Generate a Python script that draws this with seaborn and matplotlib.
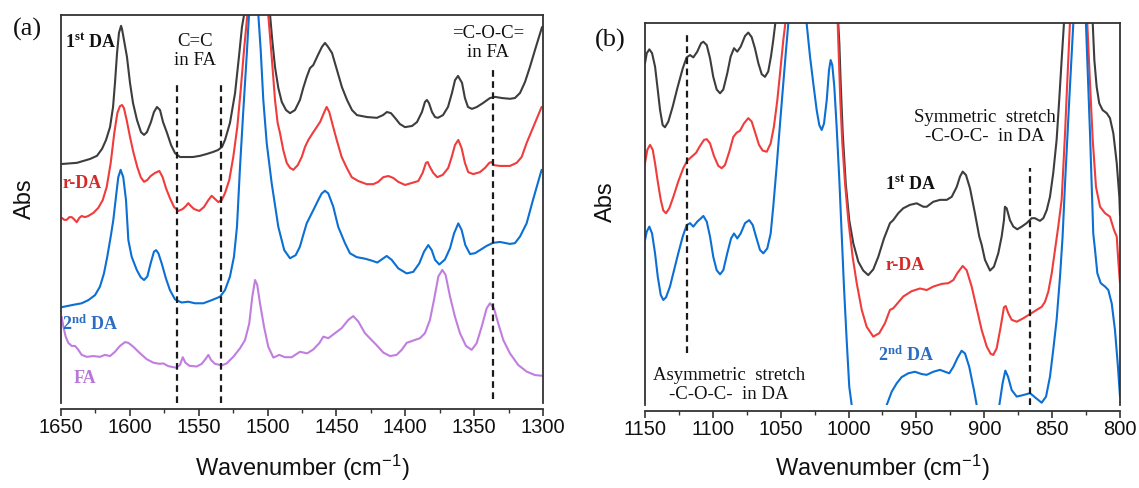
import matplotlib
matplotlib.use("Agg")
import matplotlib.pyplot as plt
from matplotlib.ticker import MultipleLocator
import pandas as pd
import seaborn as sns

# ---------------- (a) 1650-1300 cm-1 region (normalised absorbance) ----------------
wn_a_first = [1649.3, 1638.4, 1628.9, 1623.9, 1620.2, 1617.3, 1614.4, 1612.2, 1610.8, 1609.3,
              1607.9, 1606.4, 1605.7, 1604.3, 1602.1, 1599.9, 1597.7, 1594.8, 1591.9, 1589.7,
              1587.6, 1584.7, 1582.5, 1580.3, 1578.1, 1575.9, 1573.0, 1570.1, 1567.2, 1563.6,
              1558.5, 1554.2, 1549.1, 1544.0, 1539.6, 1536.0, 1533.1, 1530.9, 1527.3, 1523.6,
              1520.8, 1518.6, 1517.1, 1508.0, 1498.2, 1496.6, 1494.6, 1492.2, 1489.7, 1486.6,
              1483.7, 1480.1, 1476.5, 1474.1, 1471.6, 1469.2, 1466.8, 1463.4, 1460.5, 1458.3,
              1456.1, 1453.2, 1449.6, 1446.0, 1442.3, 1438.7, 1435.1, 1427.8, 1420.6, 1416.2,
              1413.3, 1410.4, 1407.5, 1403.9, 1400.2, 1395.1, 1391.5, 1387.9, 1385.7, 1384.3,
              1382.8, 1380.6, 1378.4, 1376.3, 1372.6, 1369.0, 1366.1, 1363.9, 1361.7, 1358.8,
              1356.7, 1354.5, 1351.6, 1348.0, 1343.6, 1338.5, 1334.9, 1329.8, 1324.0, 1320.4,
              1316.7, 1313.1, 1309.5, 1305.8, 1300.7]
abs_a_first = [0.616, 0.619, 0.629, 0.637, 0.655, 0.678, 0.711, 0.763, 0.825, 0.902,
               0.954, 0.972, 0.964, 0.936, 0.892, 0.825, 0.773, 0.729, 0.698, 0.691,
               0.698, 0.724, 0.750, 0.763, 0.755, 0.724, 0.696, 0.665, 0.644, 0.634,
               0.634, 0.634, 0.637, 0.642, 0.647, 0.652, 0.660, 0.678, 0.722, 0.799,
               0.892, 0.969, 1.000, 1.600, 1.000, 0.936, 0.866, 0.812, 0.776, 0.755,
               0.747, 0.755, 0.781, 0.812, 0.840, 0.863, 0.871, 0.897, 0.918, 0.928,
               0.918, 0.902, 0.858, 0.814, 0.781, 0.755, 0.742, 0.737, 0.735, 0.742,
               0.750, 0.747, 0.735, 0.719, 0.711, 0.714, 0.724, 0.750, 0.776, 0.781,
               0.773, 0.750, 0.737, 0.735, 0.742, 0.763, 0.799, 0.832, 0.843, 0.825,
               0.786, 0.763, 0.758, 0.763, 0.773, 0.786, 0.789, 0.786, 0.784, 0.786,
               0.799, 0.827, 0.866, 0.910, 0.969]

wn_a_rda = [1649.3, 1647.6, 1645.9, 1644.0, 1642.2, 1640.6, 1638.6, 1636.7, 1635.0, 1632.6,
            1630.2, 1626.5, 1622.9, 1619.7, 1616.8, 1613.9, 1611.3, 1609.1, 1607.2, 1605.7,
            1604.3, 1602.3, 1599.9, 1597.5, 1594.6, 1592.1, 1589.7, 1587.3, 1584.9, 1581.7,
            1578.6, 1576.2, 1573.8, 1570.9, 1567.9, 1564.8, 1561.6, 1559.2, 1557.6, 1555.8,
            1553.4, 1549.6, 1546.2, 1543.0, 1540.6, 1538.2, 1535.8, 1533.3, 1530.9, 1527.8,
            1524.9, 1522.0, 1519.5, 1517.1, 1514.7, 1507.5, 1499.5, 1497.0, 1494.6, 1492.7,
            1491.0, 1488.6, 1486.1, 1483.7, 1481.3, 1478.1, 1475.2, 1472.8, 1470.4, 1466.8,
            1461.9, 1458.8, 1457.1, 1455.2, 1452.7, 1449.8, 1446.2, 1442.5, 1438.9, 1434.1,
            1428.0, 1423.2, 1419.6, 1416.0, 1412.3, 1408.7, 1405.1, 1400.2, 1395.4, 1390.6,
            1387.4, 1385.0, 1383.7, 1382.1, 1379.7, 1376.8, 1372.8, 1368.8, 1366.3, 1363.9,
            1361.5, 1359.1, 1356.7, 1354.3, 1350.6, 1345.8, 1342.1, 1339.0, 1337.3, 1335.6,
            1331.2, 1324.0, 1319.1, 1315.5, 1311.9, 1307.1, 1301.0]
abs_a_rda = [0.477, 0.472, 0.472, 0.479, 0.479, 0.474, 0.466, 0.477, 0.482, 0.479,
             0.482, 0.490, 0.503, 0.523, 0.557, 0.619, 0.696, 0.747, 0.765, 0.768,
             0.760, 0.729, 0.686, 0.647, 0.608, 0.582, 0.570, 0.575, 0.585, 0.593,
             0.598, 0.582, 0.554, 0.528, 0.505, 0.495, 0.500, 0.508, 0.515, 0.508,
             0.500, 0.495, 0.505, 0.523, 0.534, 0.526, 0.518, 0.523, 0.541, 0.575,
             0.634, 0.711, 0.807, 0.910, 1.000, 1.500, 1.000, 0.892, 0.781, 0.722,
             0.696, 0.652, 0.619, 0.606, 0.601, 0.613, 0.634, 0.660, 0.678, 0.698,
             0.724, 0.750, 0.763, 0.750, 0.716, 0.678, 0.634, 0.606, 0.582, 0.572,
             0.564, 0.564, 0.570, 0.582, 0.585, 0.580, 0.570, 0.562, 0.567, 0.572,
             0.593, 0.619, 0.621, 0.608, 0.593, 0.582, 0.588, 0.606, 0.634, 0.665,
             0.678, 0.657, 0.619, 0.595, 0.590, 0.595, 0.606, 0.619, 0.621, 0.613,
             0.611, 0.611, 0.619, 0.634, 0.670, 0.711, 0.763]

wn_a_second = [1649.5, 1641.1, 1635.0, 1630.2, 1625.3, 1621.7, 1618.8, 1616.4, 1613.9, 1612.0,
               1610.1, 1608.4, 1606.7, 1604.8, 1602.8, 1601.1, 1598.7, 1595.0, 1592.1, 1589.7,
               1587.3, 1584.9, 1582.5, 1581.0, 1579.3, 1576.9, 1573.8, 1570.9, 1567.2, 1562.4,
               1557.6, 1552.7, 1546.7, 1540.6, 1534.5, 1530.9, 1527.3, 1524.4, 1522.2, 1520.0,
               1517.6, 1515.2, 1513.5, 1510.0, 1506.7, 1505.0, 1503.1, 1500.6, 1497.0, 1492.2,
               1487.9, 1483.7, 1479.6, 1476.5, 1474.1, 1471.6, 1466.8, 1463.2, 1460.7, 1458.3,
               1455.9, 1452.3, 1448.7, 1443.8, 1440.2, 1435.3, 1429.3, 1424.4, 1420.3, 1417.1,
               1413.5, 1409.9, 1405.1, 1399.0, 1394.2, 1389.8, 1386.4, 1383.3, 1380.8, 1378.4,
               1375.3, 1371.2, 1367.5, 1364.6, 1361.5, 1359.1, 1356.4, 1353.0, 1349.4, 1345.8,
               1340.9, 1336.1, 1331.2, 1324.0, 1320.4, 1316.7, 1311.9, 1307.3, 1301.0]
abs_a_second = [0.247, 0.253, 0.257, 0.265, 0.278, 0.300, 0.334, 0.377, 0.429, 0.472,
                0.531, 0.582, 0.601, 0.582, 0.523, 0.420, 0.377, 0.343, 0.324, 0.317,
                0.326, 0.360, 0.390, 0.394, 0.386, 0.360, 0.321, 0.291, 0.267, 0.259,
                0.261, 0.257, 0.257, 0.265, 0.274, 0.291, 0.326, 0.377, 0.455, 0.609,
                0.755, 0.893, 1.000, 1.300, 1.000, 0.910, 0.781, 0.669, 0.566, 0.454,
                0.394, 0.373, 0.381, 0.403, 0.433, 0.463, 0.497, 0.523, 0.540, 0.547,
                0.540, 0.506, 0.454, 0.412, 0.386, 0.376, 0.372, 0.367, 0.362, 0.370,
                0.379, 0.369, 0.347, 0.334, 0.338, 0.360, 0.390, 0.407, 0.394, 0.369,
                0.357, 0.370, 0.399, 0.437, 0.463, 0.446, 0.407, 0.384, 0.386, 0.394,
                0.405, 0.413, 0.415, 0.410, 0.412, 0.429, 0.463, 0.523, 0.601]

wn_a_fa = [1649.5, 1648.3, 1646.6, 1644.7, 1642.2, 1639.8, 1637.4, 1635.0, 1631.3, 1626.5,
           1621.7, 1618.1, 1614.4, 1610.8, 1607.2, 1603.5, 1601.1, 1597.5, 1592.6, 1587.8,
           1583.0, 1578.6, 1575.7, 1572.1, 1566.5, 1563.6, 1561.6, 1559.7, 1556.8, 1551.5,
           1547.8, 1544.7, 1543.0, 1541.1, 1538.2, 1533.3, 1529.7, 1524.9, 1520.0, 1516.4,
           1513.3, 1511.1, 1509.1, 1507.5, 1505.5, 1502.6, 1499.5, 1495.8, 1491.5, 1487.4,
           1482.5, 1476.5, 1471.2, 1466.8, 1462.5, 1459.5, 1455.9, 1451.0, 1446.2, 1441.4,
           1437.8, 1434.1, 1429.3, 1424.4, 1420.8, 1416.0, 1411.1, 1406.3, 1402.6, 1399.0,
           1394.2, 1389.3, 1385.7, 1382.1, 1379.2, 1376.0, 1373.1, 1370.7, 1367.5, 1363.9,
           1360.3, 1355.9, 1351.8, 1348.2, 1344.5, 1340.9, 1338.5, 1335.6, 1332.5, 1328.8,
           1324.0, 1318.0, 1311.9, 1305.8, 1300.0]
abs_a_fa = [0.222, 0.197, 0.171, 0.155, 0.147, 0.147, 0.137, 0.124, 0.119, 0.121,
            0.119, 0.124, 0.121, 0.132, 0.147, 0.157, 0.155, 0.145, 0.128, 0.113,
            0.104, 0.101, 0.102, 0.095, 0.091, 0.098, 0.118, 0.104, 0.096, 0.094,
            0.101, 0.115, 0.124, 0.111, 0.101, 0.097, 0.102, 0.119, 0.141, 0.162,
            0.205, 0.274, 0.317, 0.304, 0.257, 0.197, 0.145, 0.117, 0.124, 0.118,
            0.118, 0.132, 0.128, 0.138, 0.154, 0.171, 0.167, 0.180, 0.193, 0.214,
            0.224, 0.210, 0.180, 0.162, 0.149, 0.130, 0.121, 0.124, 0.137, 0.155,
            0.161, 0.167, 0.180, 0.214, 0.265, 0.326, 0.343, 0.330, 0.274, 0.222,
            0.180, 0.147, 0.137, 0.154, 0.197, 0.244, 0.257, 0.244, 0.205, 0.162,
            0.128, 0.098, 0.081, 0.072, 0.070]

# ---------------- (b) 1150-800 cm-1 region (normalised absorbance) ----------------
wn_b_first = [1150.0, 1148.7, 1146.8, 1144.8, 1142.6, 1140.6, 1138.9, 1137.0, 1135.3, 1132.8,
              1129.6, 1126.2, 1122.2, 1119.3, 1116.8, 1114.4, 1111.5, 1108.7, 1107.0, 1104.5,
              1102.1, 1099.7, 1097.2, 1094.7, 1092.3, 1089.4, 1086.9, 1084.4, 1082.0, 1079.5,
              1076.3, 1073.9, 1071.4, 1069.0, 1066.5, 1064.0, 1061.6, 1059.2, 1057.2, 1055.5,
              1054.0, 1045.0, 1030.0, 1015.0, 1007.6, 1006.8, 1005.8, 1004.3, 1002.1, 999.5,
              996.5, 992.8, 989.2, 985.5, 981.8, 978.1, 973.9, 969.5, 967.1, 963.4,
              959.7, 954.7, 949.8, 944.9, 942.4, 937.6, 932.6, 927.7, 924.0, 920.3,
              917.9, 915.9, 913.5, 910.5, 906.9, 903.7, 901.9, 899.5, 895.8, 892.9,
              889.7, 887.2, 885.5, 884.8, 883.5, 881.1, 878.6, 875.7, 872.4, 868.8,
              865.1, 862.7, 859.0, 856.5, 854.0, 851.6, 849.2, 846.7, 844.8, 843.0,
              841.3, 831.0, 820.1, 818.9, 817.2, 815.3, 812.8, 809.8, 807.4, 804.9,
              802.4, 800.5, 800.0]
abs_b_first = [0.895, 0.921, 0.931, 0.921, 0.886, 0.825, 0.772, 0.733, 0.727, 0.742,
               0.781, 0.829, 0.881, 0.910, 0.916, 0.910, 0.925, 0.947, 0.951, 0.942,
               0.908, 0.859, 0.826, 0.816, 0.826, 0.868, 0.912, 0.934, 0.925, 0.938,
               0.966, 0.975, 0.963, 0.934, 0.895, 0.866, 0.859, 0.873, 0.912, 0.955,
               0.999, 1.350, 1.500, 1.350, 0.999, 0.947, 0.842, 0.711, 0.580, 0.484,
               0.423, 0.375, 0.352, 0.340, 0.355, 0.388, 0.436, 0.476, 0.484, 0.502,
               0.515, 0.524, 0.528, 0.519, 0.519, 0.532, 0.537, 0.537, 0.545, 0.571,
               0.598, 0.611, 0.602, 0.567, 0.502, 0.441, 0.419, 0.380, 0.352, 0.362,
               0.397, 0.441, 0.484, 0.519, 0.515, 0.484, 0.467, 0.460, 0.467, 0.476,
               0.489, 0.489, 0.482, 0.489, 0.510, 0.545, 0.607, 0.694, 0.798, 0.903,
               0.999, 1.500, 0.999, 0.903, 0.833, 0.790, 0.772, 0.764, 0.751, 0.711,
               0.633, 0.545, 0.497]

wn_b_rda = [1150.0, 1148.3, 1146.3, 1144.3, 1142.6, 1140.6, 1138.4, 1136.5, 1134.5, 1132.1,
            1129.1, 1125.5, 1121.8, 1118.8, 1115.6, 1112.4, 1109.5, 1106.5, 1104.5, 1102.1,
            1099.2, 1096.0, 1093.5, 1091.1, 1087.9, 1084.9, 1082.4, 1080.0, 1077.1, 1073.9,
            1071.4, 1069.0, 1066.0, 1063.3, 1060.3, 1057.4, 1055.0, 1052.5, 1050.0, 1048.1,
            1046.6, 1030.0, 1015.0, 1008.0, 1007.1, 1006.1, 1004.6, 1002.6, 1000.2, 997.0,
            994.0, 990.3, 986.7, 981.8, 977.4, 973.2, 969.5, 967.1, 959.7, 953.5,
            947.4, 942.4, 937.6, 931.4, 926.5, 922.8, 919.9, 915.9, 913.0, 909.3,
            905.6, 901.9, 898.2, 895.3, 893.4, 890.9, 887.9, 885.5, 884.2, 882.3,
            879.8, 876.1, 871.3, 866.3, 861.4, 857.7, 855.3, 852.8, 850.3, 847.9,
            845.5, 843.0, 840.5, 838.9, 836.9, 829.0, 824.1, 822.1, 820.1, 817.7,
            814.7, 811.0, 807.4, 804.4, 802.4, 801.3, 800.0]
abs_b_rda = [0.633, 0.668, 0.681, 0.668, 0.633, 0.585, 0.537, 0.509, 0.502, 0.515,
             0.545, 0.585, 0.620, 0.640, 0.650, 0.660, 0.678, 0.694, 0.696, 0.685,
             0.652, 0.626, 0.620, 0.628, 0.663, 0.702, 0.713, 0.718, 0.737, 0.751,
             0.742, 0.715, 0.681, 0.666, 0.663, 0.685, 0.729, 0.798, 0.886, 0.955,
             0.999, 1.500, 1.400, 0.999, 0.903, 0.798, 0.685, 0.580, 0.484, 0.388,
             0.319, 0.249, 0.205, 0.179, 0.188, 0.214, 0.249, 0.253, 0.284, 0.298,
             0.305, 0.301, 0.310, 0.317, 0.319, 0.327, 0.345, 0.364, 0.353, 0.310,
             0.253, 0.196, 0.153, 0.134, 0.131, 0.148, 0.205, 0.256, 0.259, 0.240,
             0.223, 0.218, 0.227, 0.238, 0.249, 0.257, 0.270, 0.297, 0.345, 0.406,
             0.467, 0.537, 0.711, 0.842, 0.999, 1.500, 0.999, 0.842, 0.694, 0.571,
             0.519, 0.502, 0.493, 0.458, 0.441, 0.380, 0.319]

wn_b_second = [1150.0, 1148.7, 1146.8, 1144.8, 1142.6, 1140.6, 1138.4, 1136.5, 1134.5, 1131.6,
               1128.6, 1125.5, 1122.2, 1119.3, 1116.8, 1114.4, 1111.5, 1108.7, 1107.0, 1104.5,
               1102.1, 1099.7, 1097.2, 1094.7, 1092.3, 1089.4, 1086.6, 1084.4, 1082.0, 1079.5,
               1076.3, 1073.2, 1070.6, 1068.2, 1065.3, 1062.8, 1059.9, 1057.4, 1055.5, 1053.0,
               1050.5, 1048.1, 1046.1, 1044.4, 1038.0, 1030.9, 1028.4, 1026.0, 1023.5, 1021.6,
               1019.8, 1018.1, 1016.1, 1014.4, 1013.2, 1012.0, 1010.5, 1008.8, 1006.8, 1005.1,
               1003.4, 1001.4, 999.5, 997.7, 990.0, 980.0, 971.9, 968.2, 964.5, 960.9,
               956.0, 951.1, 946.1, 942.4, 937.6, 932.6, 928.9, 925.8, 922.8, 919.9,
               916.7, 914.2, 911.1, 907.6, 905.6, 897.0, 888.9, 886.5, 884.5, 882.5,
               879.8, 876.1, 871.3, 866.3, 861.9, 857.7, 854.5, 851.6, 849.2, 846.7,
               844.2, 842.3, 840.5, 837.4, 834.4, 829.0, 825.1, 822.1, 819.7, 818.4,
               816.7, 814.2, 811.0, 808.6, 806.1, 803.7, 801.7, 800.0]
abs_b_second = [0.432, 0.454, 0.467, 0.449, 0.397, 0.336, 0.288, 0.275, 0.282, 0.310,
                0.353, 0.397, 0.441, 0.471, 0.476, 0.467, 0.480, 0.489, 0.495, 0.480,
                0.441, 0.388, 0.353, 0.342, 0.353, 0.397, 0.436, 0.449, 0.436, 0.449,
                0.476, 0.484, 0.471, 0.441, 0.406, 0.397, 0.410, 0.449, 0.519, 0.624,
                0.737, 0.842, 0.929, 0.999, 1.250, 0.999, 0.912, 0.842, 0.772, 0.733,
                0.720, 0.737, 0.798, 0.877, 0.903, 0.890, 0.833, 0.729, 0.589, 0.449,
                0.310, 0.170, 0.048, 0.000, -0.300, -0.250, 0.000, 0.035, 0.057, 0.073,
                0.083, 0.087, 0.081, 0.079, 0.087, 0.092, 0.087, 0.083, 0.100, 0.122,
                0.142, 0.135, 0.100, 0.039, 0.000, -0.120, 0.000, 0.057, 0.090, 0.074,
                0.039, 0.022, 0.026, 0.031, 0.018, 0.006, 0.022, 0.074, 0.144, 0.223,
                0.336, 0.441, 0.580, 0.798, 0.999, 1.500, 0.999, 0.711, 0.449, 0.406,
                0.345, 0.319, 0.310, 0.301, 0.266, 0.196, 0.109, 0.022]

# band markers: (wavenumber, lower end, upper end) in normalised Abs
markers_a = [(1566, 0.0, 0.82), (1534, 0.0, 0.82), (1336, 0.01, 0.866)]
markers_b = [(1119, 0.136, 0.98), (866, 0.0, 0.62)]

COL_FIRST = "#3d3d3d"
COL_RDA = "#f03c3c"
COL_SECOND = "#0b6fd3"
COL_FA = "#c07ede"

sns.set_theme(style="white")
plt.rcParams["font.family"] = ["Liberation Sans", "DejaVu Sans"]
plt.rcParams["mathtext.default"] = "regular"

W, H = 1139, 488
fig = plt.figure(figsize=(W / 100, H / 100), dpi=100)
ax_a = fig.add_axes([61 / W, 1 - 403 / H, 482 / W, 388 / H])
ax_b = fig.add_axes([645 / W, 1 - 405 / H, 475 / W, 382 / H])

SERIF = ["Liberation Serif", "DejaVu Serif"]


def draw_series(ax, wn, ab, color):
    df = pd.DataFrame({"wavenumber": wn, "absorbance": ab})
    sns.lineplot(data=df, x="wavenumber", y="absorbance", color=color,
                 lw=1.5, estimator=None, sort=False, ax=ax,
                 solid_joinstyle="round", solid_capstyle="round")


def style_axis(ax, xmax, xmin):
    ax.set_xlim(xmax, xmin)
    ax.set_ylim(0, 1)
    ax.set_yticks([])
    ax.xaxis.set_major_locator(MultipleLocator(50))
    ax.xaxis.set_minor_locator(MultipleLocator(25))
    ax.tick_params(axis="x", which="major", bottom=True, direction="out",
                   length=5, width=1.2, color="#333333", labelsize=14.5,
                   pad=2, labelcolor="#111111")
    ax.tick_params(axis="x", which="minor", bottom=True, direction="out",
                   length=3, width=1.0, color="#333333")
    for side in ["left", "right", "top", "bottom"]:
        ax.spines[side].set_visible(True)
        ax.spines[side].set_color("#333333")
        ax.spines[side].set_linewidth(1.3)
    ax.spines["bottom"].set_position(("outward", 4))
    ax.set_xlabel("Wavenumber (cm$^{-1}$)", fontsize=17, color="#111111")
    ax.set_ylabel("Abs", fontsize=17, color="#111111")
    ax.xaxis.label.set_va("center")
    ax.yaxis.label.set_va("center")


# panel (a)
draw_series(ax_a, wn_a_first, abs_a_first, COL_FIRST)
draw_series(ax_a, wn_a_rda, abs_a_rda, COL_RDA)
draw_series(ax_a, wn_a_second, abs_a_second, COL_SECOND)
draw_series(ax_a, wn_a_fa, abs_a_fa, COL_FA)
for w, y0, y1 in markers_a:
    ax_a.plot([w, w], [y0, y1], color="#1a1a1a", lw=1.6, ls=(0, (3, 2)))
style_axis(ax_a, 1650, 1300)
ax_a.xaxis.set_label_coords(0.5, -0.1675)
ax_a.yaxis.set_label_coords(-0.075, 0.526)

ax_a.text(1553, 0.906, "C=C\nin FA", family=SERIF, fontsize=13.5,
          ha="center", va="center", color="#111111", linespacing=1.15)
ax_a.text(1340, 0.927, "=C-O-C=\nin FA", family=SERIF, fontsize=13.5,
          ha="center", va="center", color="#111111", linespacing=1.15)
lab = dict(family=SERIF, fontsize=13, fontweight="bold", ha="left", va="center")
ax_a.text(1647, 0.930, "1$^{st}$ DA", color="#111111", **lab)
ax_a.text(1648.5, 0.567, "r-DA", color="#d42a2a", **lab)
ax_a.text(1649, 0.204, "2$^{nd}$ DA", color="#2b6cc4", **lab)
ax_a.text(1641, 0.064, "FA", color="#b877d8", **lab)

# panel (b)
draw_series(ax_b, wn_b_first, abs_b_first, COL_FIRST)
draw_series(ax_b, wn_b_rda, abs_b_rda, COL_RDA)
draw_series(ax_b, wn_b_second, abs_b_second, COL_SECOND)
for w, y0, y1 in markers_b:
    ax_b.plot([w, w], [y0, y1], color="#1a1a1a", lw=1.6, ls=(0, (3, 2)))
style_axis(ax_b, 1150, 800)
ax_b.xaxis.set_label_coords(0.5, -0.165)
ax_b.yaxis.set_label_coords(-0.082, 0.531)

ax_b.text(899.5, 0.728, "Symmetric  stretch\n-C-O-C-  in DA", family=SERIF,
          fontsize=13.5, ha="center", va="center", color="#111111", linespacing=1.15)
ax_b.text(1088, 0.052, "Asymmetric  stretch\n-C-O-C-  in DA", family=SERIF,
          fontsize=13.5, ha="center", va="center", color="#111111", linespacing=1.15)
ax_b.text(973, 0.579, "1$^{st}$ DA", color="#111111", **lab)
ax_b.text(973, 0.366, "r-DA", color="#d42a2a", **lab)
ax_b.text(978, 0.131, "2$^{nd}$ DA", color="#2b6cc4", **lab)

fig.text(27 / W, 1 - 29 / H, "(a)", family=SERIF, fontsize=19,
         ha="center", va="center", color="#111111")
fig.text(610 / W, 1 - 40 / H, "(b)", family=SERIF, fontsize=19,
         ha="center", va="center", color="#111111")

fig.savefig("out.png", dpi=100, facecolor="white")
